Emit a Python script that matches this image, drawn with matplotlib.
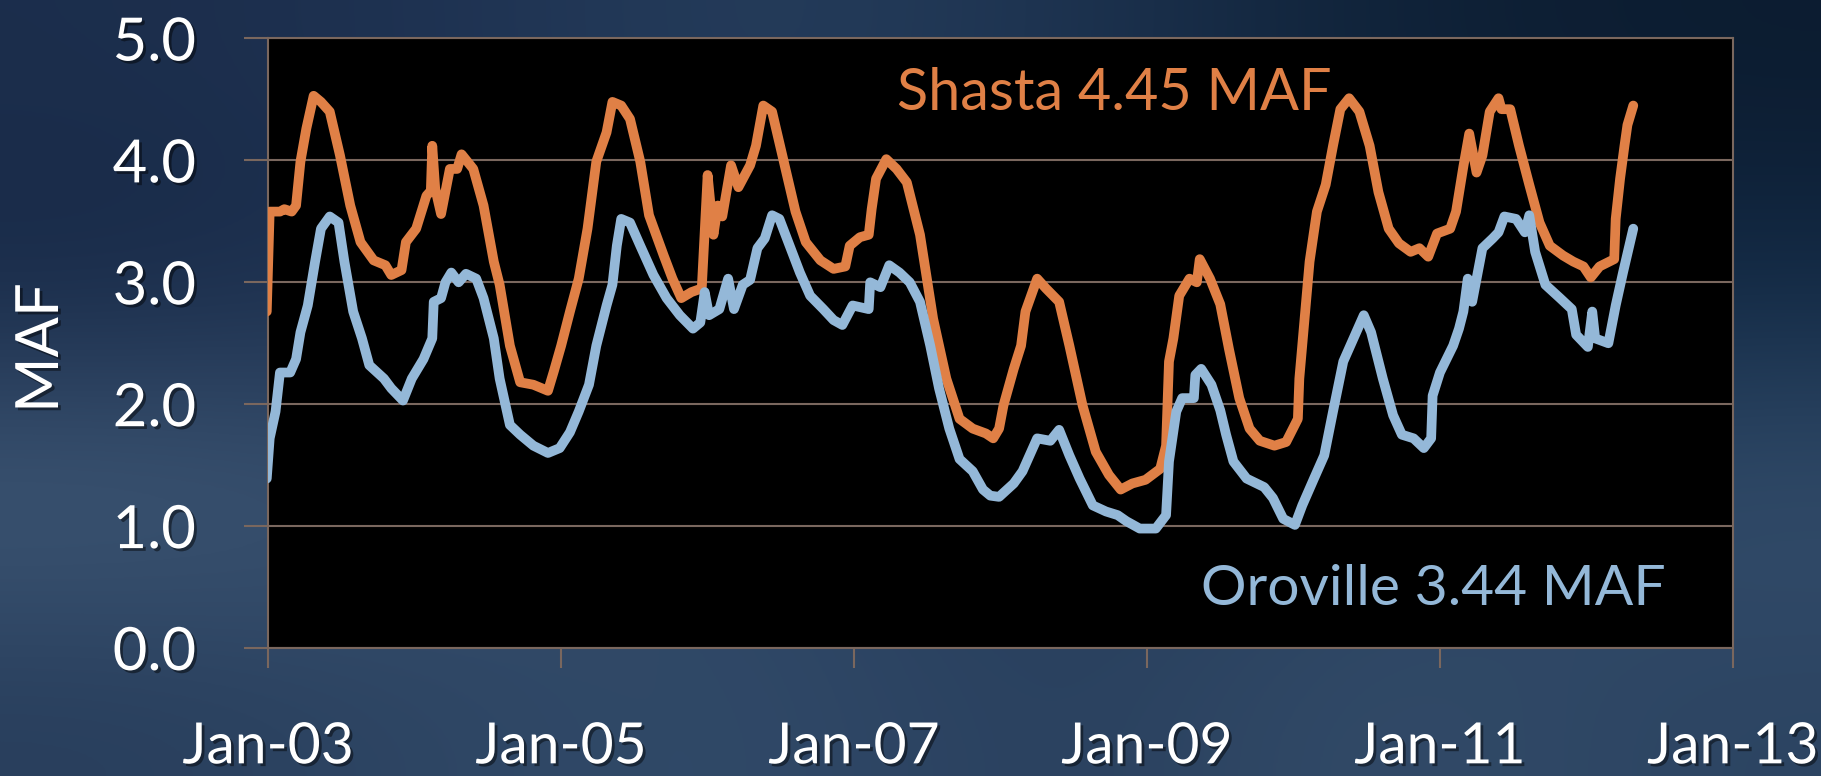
import matplotlib
matplotlib.use("Agg")
import matplotlib.pyplot as plt
import numpy as np
from matplotlib import patheffects as pe

plt.rcParams['font.family'] = ['Lato', 'DejaVu Sans']

# ---- data (decimal years, MAF) ----
shasta_t = [2002.99, 2003.01, 2003.08, 2003.11, 2003.16, 2003.19, 2003.22, 2003.26, 2003.31, 2003.36,
            2003.42, 2003.49, 2003.56, 2003.63, 2003.72, 2003.80, 2003.84, 2003.91, 2003.94, 2004.01,
            2004.08, 2004.11, 2004.12, 2004.14, 2004.18, 2004.24, 2004.29, 2004.32, 2004.40, 2004.47,
            2004.54, 2004.58, 2004.65, 2004.72, 2004.81, 2004.91, 2004.95, 2005.00, 2005.06, 2005.12,
            2005.18, 2005.24, 2005.31, 2005.35, 2005.41, 2005.47, 2005.54, 2005.60, 2005.70, 2005.76,
            2005.82, 2005.89, 2005.96, 2006.00, 2006.04, 2006.07, 2006.10, 2006.16, 2006.21, 2006.29,
            2006.33, 2006.38, 2006.44, 2006.52, 2006.60, 2006.67, 2006.77, 2006.86, 2006.94, 2006.97,
            2007.04, 2007.10, 2007.12, 2007.15, 2007.22, 2007.29, 2007.36, 2007.45, 2007.54, 2007.63,
            2007.72, 2007.81, 2007.90, 2007.95, 2007.99, 2008.02, 2008.09, 2008.14, 2008.17, 2008.25,
            2008.31, 2008.40, 2008.47, 2008.56, 2008.65, 2008.74, 2008.82, 2008.90, 2008.99, 2009.09,
            2009.13, 2009.15, 2009.18, 2009.22, 2009.29, 2009.34, 2009.36, 2009.43, 2009.50, 2009.56,
            2009.63, 2009.70, 2009.77, 2009.87, 2009.95, 2010.03, 2010.04, 2010.08, 2010.11, 2010.16,
            2010.22, 2010.27, 2010.32, 2010.38, 2010.45, 2010.52, 2010.58, 2010.65, 2010.72, 2010.80,
            2010.86, 2010.92, 2010.98, 2011.07, 2011.11, 2011.16, 2011.20, 2011.25, 2011.29, 2011.34,
            2011.40, 2011.42, 2011.48, 2011.54, 2011.61, 2011.68, 2011.75, 2011.84, 2011.91, 2011.98,
            2012.03, 2012.09, 2012.19, 2012.20, 2012.23, 2012.26, 2012.28, 2012.32]
shasta_v = [2.76, 3.58, 3.58, 3.60, 3.58, 3.63, 3.99, 4.26, 4.53, 4.48,
            4.40, 4.04, 3.63, 3.33, 3.18, 3.14, 3.06, 3.10, 3.33, 3.44,
            3.71, 3.75, 4.12, 3.77, 3.56, 3.93, 3.93, 4.05, 3.93, 3.63,
            3.17, 2.98, 2.48, 2.18, 2.16, 2.11, 2.27, 2.48, 2.76, 3.03,
            3.44, 3.99, 4.23, 4.48, 4.45, 4.34, 3.99, 3.55, 3.22, 3.03,
            2.87, 2.92, 2.95, 3.88, 3.39, 3.63, 3.54, 3.96, 3.78, 3.96,
            4.12, 4.45, 4.40, 3.99, 3.58, 3.33, 3.18, 3.11, 3.13, 3.30,
            3.37, 3.39, 3.60, 3.85, 4.01, 3.93, 3.82, 3.39, 2.70, 2.21,
            1.88, 1.80, 1.76, 1.72, 1.80, 1.99, 2.29, 2.48, 2.76, 3.03,
            2.95, 2.84, 2.48, 1.99, 1.61, 1.42, 1.30, 1.35, 1.38, 1.47,
            1.66, 2.35, 2.54, 2.89, 3.03, 3.00, 3.19, 3.03, 2.82, 2.45,
            2.05, 1.80, 1.70, 1.66, 1.69, 1.88, 2.21, 2.76, 3.17, 3.58,
            3.80, 4.12, 4.42, 4.51, 4.40, 4.12, 3.74, 3.44, 3.32, 3.25,
            3.28, 3.21, 3.40, 3.44, 3.58, 3.95, 4.22, 3.90, 4.04, 4.40,
            4.51, 4.42, 4.42, 4.12, 3.80, 3.49, 3.30, 3.22, 3.17, 3.13,
            3.04, 3.13, 3.19, 3.52, 3.85, 4.12, 4.29, 4.45]

oroville_t = [2002.99, 2003.01, 2003.05, 2003.08, 2003.15, 2003.19, 2003.22, 2003.27, 2003.32, 2003.36,
              2003.42, 2003.48, 2003.52, 2003.58, 2003.64, 2003.69, 2003.79, 2003.84, 2003.92, 2003.98,
              2004.06, 2004.12, 2004.13, 2004.18, 2004.21, 2004.25, 2004.30, 2004.35, 2004.42, 2004.47,
              2004.54, 2004.58, 2004.65, 2004.72, 2004.81, 2004.91, 2004.99, 2005.06, 2005.12, 2005.19,
              2005.24, 2005.31, 2005.35, 2005.38, 2005.41, 2005.47, 2005.54, 2005.63, 2005.72, 2005.81,
              2005.90, 2005.95, 2005.98, 2006.01, 2006.08, 2006.14, 2006.18, 2006.24, 2006.29, 2006.34,
              2006.39, 2006.44, 2006.49, 2006.56, 2006.63, 2006.70, 2006.79, 2006.86, 2006.92, 2006.99,
              2007.10, 2007.11, 2007.18, 2007.24, 2007.31, 2007.38, 2007.45, 2007.52, 2007.58, 2007.65,
              2007.72, 2007.81, 2007.88, 2007.93, 2007.99, 2008.09, 2008.15, 2008.25, 2008.34, 2008.40,
              2008.47, 2008.54, 2008.63, 2008.72, 2008.80, 2008.86, 2008.95, 2009.06, 2009.13, 2009.15,
              2009.20, 2009.24, 2009.32, 2009.33, 2009.37, 2009.44, 2009.50, 2009.54, 2009.59, 2009.68,
              2009.80, 2009.86, 2009.93, 2010.01, 2010.06, 2010.14, 2010.21, 2010.27, 2010.34, 2010.41,
              2010.48, 2010.53, 2010.61, 2010.68, 2010.74, 2010.82, 2010.89, 2010.94, 2010.95, 2011.00,
              2011.09, 2011.13, 2011.16, 2011.19, 2011.22, 2011.29, 2011.36, 2011.40, 2011.44, 2011.52,
              2011.58, 2011.61, 2011.65, 2011.72, 2011.82, 2011.90, 2011.93, 2012.01, 2012.04, 2012.06,
              2012.15, 2012.20, 2012.25, 2012.32]
oroville_v = [1.39, 1.72, 1.94, 2.26, 2.26, 2.37, 2.59, 2.81, 3.17, 3.44,
              3.54, 3.49, 3.17, 2.76, 2.54, 2.32, 2.21, 2.13, 2.03, 2.21,
              2.37, 2.54, 2.84, 2.87, 3.00, 3.08, 3.00, 3.07, 3.03, 2.87,
              2.54, 2.21, 1.83, 1.75, 1.66, 1.60, 1.64, 1.77, 1.94, 2.16,
              2.48, 2.81, 2.98, 3.30, 3.52, 3.49, 3.30, 3.06, 2.87, 2.73,
              2.62, 2.67, 2.92, 2.73, 2.78, 3.03, 2.78, 2.98, 3.02, 3.28,
              3.36, 3.55, 3.52, 3.30, 3.08, 2.89, 2.78, 2.69, 2.65, 2.81,
              2.78, 3.00, 2.96, 3.14, 3.08, 3.00, 2.84, 2.48, 2.13, 1.80,
              1.55, 1.45, 1.30, 1.25, 1.24, 1.35, 1.45, 1.72, 1.70, 1.79,
              1.58, 1.39, 1.17, 1.12, 1.09, 1.04, 0.98, 0.98, 1.09, 1.53,
              1.94, 2.05, 2.05, 2.24, 2.29, 2.16, 1.95, 1.75, 1.53, 1.39,
              1.32, 1.23, 1.06, 1.01, 1.17, 1.39, 1.58, 1.94, 2.35, 2.54,
              2.73, 2.59, 2.21, 1.91, 1.75, 1.72, 1.64, 1.72, 2.07, 2.26,
              2.48, 2.62, 2.76, 3.03, 2.84, 3.28, 3.36, 3.41, 3.54, 3.52,
              3.41, 3.55, 3.25, 2.98, 2.87, 2.78, 2.57, 2.47, 2.76, 2.54,
              2.50, 2.81, 3.08, 3.44]

y_ticks = [0, 1, 2, 3, 4, 5]
y_tick_labels = ['0.0', '1.0', '2.0', '3.0', '4.0', '5.0']
x_ticks = [2003, 2005, 2007, 2009, 2011, 2013]
x_tick_labels = ['Jan-03', 'Jan-05', 'Jan-07', 'Jan-09', 'Jan-11', 'Jan-13']

ORANGE = '#E08046'
BLUE = '#94B8D8'
GRID = '#7a675e'

fig = plt.figure(figsize=(18.21, 7.76), dpi=100)

# stormy-sky style background
bg_grid = np.array([
    [[28, 46, 76], [30, 50, 82], [38, 62, 92], [30, 52, 82], [15, 34, 56], [12, 28, 48]],
    [[22, 40, 70], [30, 50, 80], [34, 56, 86], [26, 46, 72], [16, 38, 62], [18, 42, 70]],
    [[66, 92, 122], [56, 80, 110], [44, 68, 98], [36, 60, 90], [40, 64, 94], [52, 78, 108]],
    [[40, 62, 92], [46, 70, 100], [50, 75, 106], [40, 62, 92], [52, 77, 106], [44, 68, 98]],
], dtype=float) / 255.0
bg = fig.add_axes([0, 0, 1, 1], zorder=-10)
bg.imshow(bg_grid, aspect='auto', interpolation='bicubic', extent=[0, 1, 0, 1])
bg.set_xlim(0, 1)
bg.set_ylim(0, 1)
bg.axis('off')

ax = fig.add_axes([0.1473, 0.1649, 0.8043, 0.7855])
ax.set_facecolor('black')
ax.plot(shasta_t, shasta_v, color=ORANGE, lw=7, solid_joinstyle='round', solid_capstyle='round', zorder=3)
ax.plot(oroville_t, oroville_v, color=BLUE, lw=7, solid_joinstyle='round', solid_capstyle='round', zorder=3)

ax.set_xlim(2003, 2013)
ax.set_ylim(0, 5)
ax.set_yticks(y_ticks)
ax.set_yticklabels(y_tick_labels)
ax.set_xticks(x_ticks)
ax.set_xticklabels(x_tick_labels)
ax.grid(axis='y', color=GRID, lw=1.5, zorder=1)
ax.set_axisbelow(True)
for s in ax.spines.values():
    s.set_color(GRID)
    s.set_linewidth(1.5)

shadow = [pe.withSimplePatchShadow(offset=(2, -2), shadow_rgbFace='black', alpha=0.45)]
ax.tick_params(axis='y', direction='out', length=17, width=1.5, color=GRID, pad=35,
               labelsize=43, labelcolor='white')
ax.tick_params(axis='x', direction='out', length=14.5, width=1.5, color=GRID, pad=39,
               labelsize=41, labelcolor='white')
for lbl in ax.get_xticklabels() + ax.get_yticklabels():
    lbl.set_path_effects(shadow)

ax.text(2007.29, 4.41, 'Shasta 4.45 MAF', color=ORANGE, fontsize=41.5, ha='left', va='baseline')
ax.text(2009.37, 0.35, 'Oroville 3.44 MAF', color=BLUE, fontsize=41, ha='left', va='baseline')

fig.text(41 / 1821, 1 - 348 / 776, 'MAF', color='white', fontsize=43, rotation=90,
         ha='center', va='center', path_effects=shadow)

fig.savefig('out.png', dpi=100)
